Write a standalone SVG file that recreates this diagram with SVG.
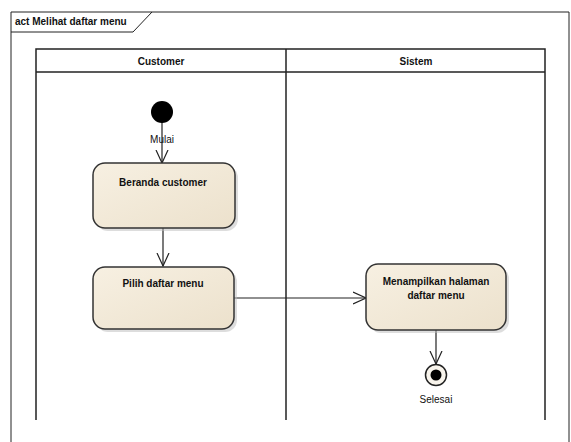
<svg xmlns="http://www.w3.org/2000/svg" width="571" height="442" viewBox="0 0 571 442">
<style>
.frame{fill:none;stroke:#222;stroke-width:1}
.lane{fill:none;stroke:#222;stroke-width:1.5}
.t{font-family:"Liberation Sans",Arial,sans-serif;font-size:10px;fill:#111}
.b{font-weight:bold}
.box{fill:url(#g);stroke:#333;stroke-width:1.5}
.shadow{fill:#bbb;opacity:0.5}
.edge{fill:none;stroke:#222;stroke-width:1.2}
</style>
<defs>
<linearGradient id="g" x1="0" y1="0" x2="1" y2="1">
<stop offset="0" stop-color="#f7f0e2"/>
<stop offset="1" stop-color="#ece1cc"/>
</linearGradient>
<marker id="open" viewBox="0 0 14 14" refX="13" refY="7" markerWidth="14" markerHeight="14" markerUnits="userSpaceOnUse" orient="auto">
<path d="M0,1 L13,7 L0,13" fill="none" stroke="#222" stroke-width="1.2"/>
</marker>
</defs>
<rect width="571" height="442" fill="#fff"/>
<g id="frame">
<path class="frame" d="M11,442 V12 H569 V442"/>
<path class="frame" d="M11,32 H133 L152,12"/>
<text class="t b" x="15" y="25" font-size="9.5">act Melihat daftar menu</text>
</g>
<g id="lanes">
<path class="lane" d="M36,420 V49 H545 V420"/>
<path class="lane" d="M36,72 H545"/>
<path class="lane" d="M286,49 V420"/>
<text class="t b" x="161" y="65" text-anchor="middle">Customer</text>
<text class="t b" x="416" y="65" text-anchor="middle">Sistem</text>
</g>
<g id="connectors">
<path class="edge" d="M162,112 V163" marker-end="url(#open)"/>
<path class="edge" d="M163,228 V266" marker-end="url(#open)"/>
<path class="edge" d="M234,298 H366" marker-end="url(#open)"/>
<path class="edge" d="M436,330 V364" marker-end="url(#open)"/>
</g>
<g id="start">
<circle cx="162" cy="112" r="11" fill="#000"/>
<text class="t" x="162" y="143" text-anchor="middle">Mulai</text>
</g>
<g id="beranda">
<rect class="shadow" x="96" y="166" width="142" height="65" rx="12"/>
<rect class="box" x="93" y="163" width="142" height="65" rx="12"/>
<text class="t b" x="163" y="186" text-anchor="middle">Beranda customer</text>
</g>
<g id="pilih">
<rect class="shadow" x="96" y="270" width="141" height="62" rx="12"/>
<rect class="box" x="93" y="267" width="141" height="62" rx="12"/>
<text class="t b" x="163" y="287" text-anchor="middle">Pilih daftar menu</text>
</g>
<g id="menampilkan">
<rect class="shadow" x="369" y="267" width="140" height="66" rx="12"/>
<rect class="box" x="366" y="264" width="140" height="66" rx="12"/>
<text class="t b" x="436" y="285" text-anchor="middle">Menampilkan halaman</text>
<text class="t b" x="436" y="299" text-anchor="middle">daftar menu</text>
</g>
<g id="end">
<circle cx="436" cy="375" r="10.5" fill="#f8f4ec" stroke="#222" stroke-width="1.5"/>
<circle cx="436" cy="375" r="5.5" fill="#000"/>
<text class="t" x="436" y="403" text-anchor="middle">Selesai</text>
</g>
</svg>
